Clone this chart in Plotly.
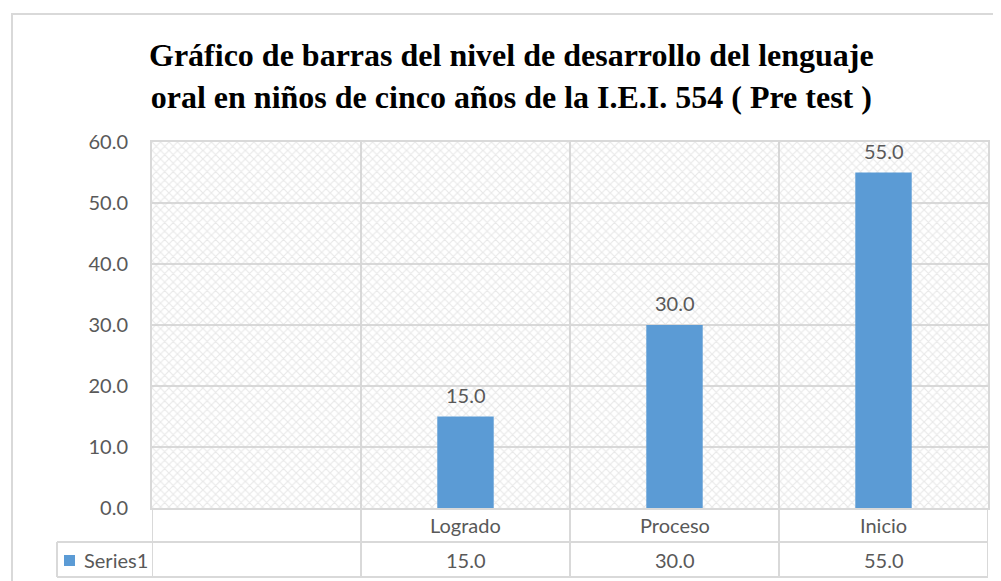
import plotly.graph_objects as go

# ---- data ----
categories = ["", "Logrado", "Proceso", "Inicio"]
bar_categories = ["Logrado", "Proceso", "Inicio"]
series_name = "Series1"
values = [15.0, 30.0, 55.0]
y_ticks = [0, 10, 20, 30, 40, 50, 60]
y_max = 60

title_text = ("<b>Gráfico de barras del nivel de desarrollo del lenguaje<br>"
              "oral en niños de cinco años de la I.E.I. 554 ( Pre test )</b>")

# ---- styling / layout ----
OFF = 8  # the page body has an 8px default margin
W, H = 1001 - OFF, 581 - OFF
# plot-area edges in screen pixels
SL, SR, ST, SB = 152, 988, 142, 508
PL, PR, PT, PB = SL - OFF, SR - OFF, ST - OFF, SB - OFF
BAR_COLOR = "#5B9BD5"
GRID = "#D9D9D9"
TXT = "#595959"
FONT = "Lato"
FS = 20


def px_x(px):
    """screen x pixel -> paper x"""
    return (px - SL) / (SR - SL)


def px_y(py):
    """screen y pixel -> paper y"""
    return (SB - py) / (SB - ST)


cat_keys = [c if c else " " for c in categories]

fig = go.Figure()

# patterned plot background (one cell per category)
fig.add_trace(go.Bar(
    x=cat_keys, y=[y_max] * len(cat_keys), width=1,
    marker=dict(color="rgba(255,255,255,0)", line=dict(width=0),
                pattern=dict(shape="x", fgcolor="#D2D2D2", bgcolor="rgba(255,255,255,0)",
                             size=6, solidity=0.35)),
    hoverinfo="skip", showlegend=False,
))

fig.add_trace(go.Bar(
    x=bar_categories, y=values, width=0.27, name=series_name,
    marker=dict(color=BAR_COLOR, line=dict(width=0)),
    showlegend=False,
))

# data labels
for c, v in zip(bar_categories, values):
    fig.add_annotation(x=c, y=min(v, y_max), xref="x", yref="y", text=f"{v:.1f}",
                       showarrow=False, yanchor="bottom", yshift=8,
                       font=dict(family=FONT, size=FS, color=TXT))

shapes = []
line = dict(color=GRID, width=2)
# outer chart border
shapes.append(dict(type="rect", xref="paper", yref="paper",
                   x0=px_x(12), x1=px_x(1010), y0=px_y(590), y1=px_y(14),
                   line=line, fillcolor="rgba(0,0,0,0)", layer="below"))
# data table
row1, row2 = px_y(542), px_y(577)
legend_left = px_x(57)
n = len(cat_keys)
for i in range(n + 1):
    shapes.append(dict(type="line", xref="x", yref="paper", x0=i - 0.5, x1=i - 0.5,
                       y0=row2, y1=0, line=line))
shapes.append(dict(type="line", xref="paper", yref="paper", x0=legend_left, x1=1,
                   y0=row1, y1=row1, line=line))
shapes.append(dict(type="line", xref="paper", yref="paper", x0=legend_left, x1=1,
                   y0=row2, y1=row2, line=line))
shapes.append(dict(type="line", xref="paper", yref="paper", x0=legend_left, x1=legend_left,
                   y0=row2, y1=row1, line=line))
# legend key
shapes.append(dict(type="rect", xref="paper", yref="paper",
                   x0=px_x(64), x1=px_x(75), y0=px_y(566), y1=px_y(555),
                   fillcolor=BAR_COLOR, line=dict(width=0)))

# table texts
for c in categories:
    if c:
        fig.add_annotation(x=c, y=px_y(525), xref="x", yref="paper", text=c, showarrow=False,
                           xanchor="center", yanchor="middle",
                           font=dict(family=FONT, size=FS, color=TXT))
for c, v in zip(bar_categories, values):
    fig.add_annotation(x=c, y=px_y(559.5), xref="x", yref="paper", text=f"{v:.1f}",
                       showarrow=False, xanchor="center", yanchor="middle",
                       font=dict(family=FONT, size=FS, color=TXT))
fig.add_annotation(x=px_x(82), y=px_y(559.5), xref="paper", yref="paper", text=series_name,
                   xanchor="left", yanchor="middle", showarrow=False,
                   font=dict(family=FONT, size=FS, color=TXT))

# title
fig.add_annotation(x=px_x(511), y=px_y(76), xref="paper", yref="paper", text=title_text,
                   showarrow=False, xanchor="center", yanchor="middle",
                   font=dict(family="Liberation Serif", size=32, color="black"))

fig.update_layout(
    width=W, height=H,
    margin=dict(l=PL, r=W - PR, t=PT, b=H - PB, pad=0),
    paper_bgcolor="white", plot_bgcolor="white",
    barmode="overlay",
    shapes=shapes,
    xaxis=dict(type="category", categoryorder="array", categoryarray=cat_keys,
               range=[-0.5, n - 0.5], tickson="boundaries", showgrid=True,
               gridcolor=GRID, gridwidth=2, showticklabels=False, ticks="",
               showline=True, mirror=True, linecolor=GRID, linewidth=2, fixedrange=True),
    yaxis=dict(range=[0, y_max], tickvals=y_ticks, tickformat=".1f",
               showgrid=True, gridcolor=GRID, gridwidth=2, zeroline=False,
               showline=True, mirror=True, linecolor=GRID, linewidth=2,
               ticks="", ticklabelstandoff=18,
               tickfont=dict(family=FONT, size=FS, color=TXT), fixedrange=True),
)

fig.write_html("out.html")
